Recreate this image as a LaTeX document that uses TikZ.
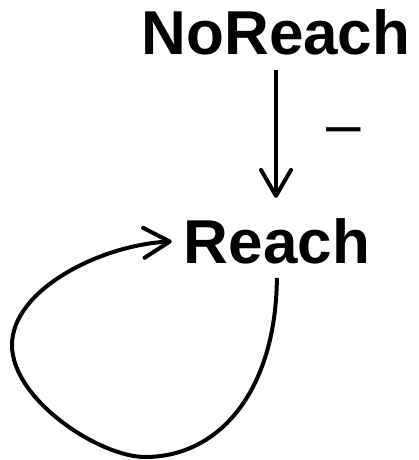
\documentclass[tikz,border=0pt]{standalone}
\usepackage{fontspec}
\setmainfont{Liberation Sans}
\usetikzlibrary{arrows.meta}
\begin{document}
\begin{tikzpicture}[x=1pt,y=-1pt,
  lbl/.style={font=\fontsize{62}{70}\selectfont\bfseries, inner sep=0pt, anchor=base},
  arr/.style={line width=4pt, -{Straight Barb[length=26pt,width=30pt,line width=4pt,round]}},
]
\useasboundingbox (0,0) rectangle (419,460);
\node[lbl] (nr) at (276,55) {NoReach};
\node[lbl] (r) at (277,263) {Reach};
\node[font=\fontsize{62}{70}\selectfont, inner sep=0pt, anchor=base] (m) at (343.5,145) {–};
\draw[arr, shorten <=14pt, shorten >=20pt] (nr.south) -- (nr.south |- r.north);
\draw[arr, shorten <=14pt, shorten >=12pt] (r.south)
  .. controls (276,390) and (220,457) .. (145,457)
  .. controls (100,457) and (12,400) .. (12,345)
  .. controls (12,290) and (100,245) .. (r.west);
\end{tikzpicture}
\end{document}
